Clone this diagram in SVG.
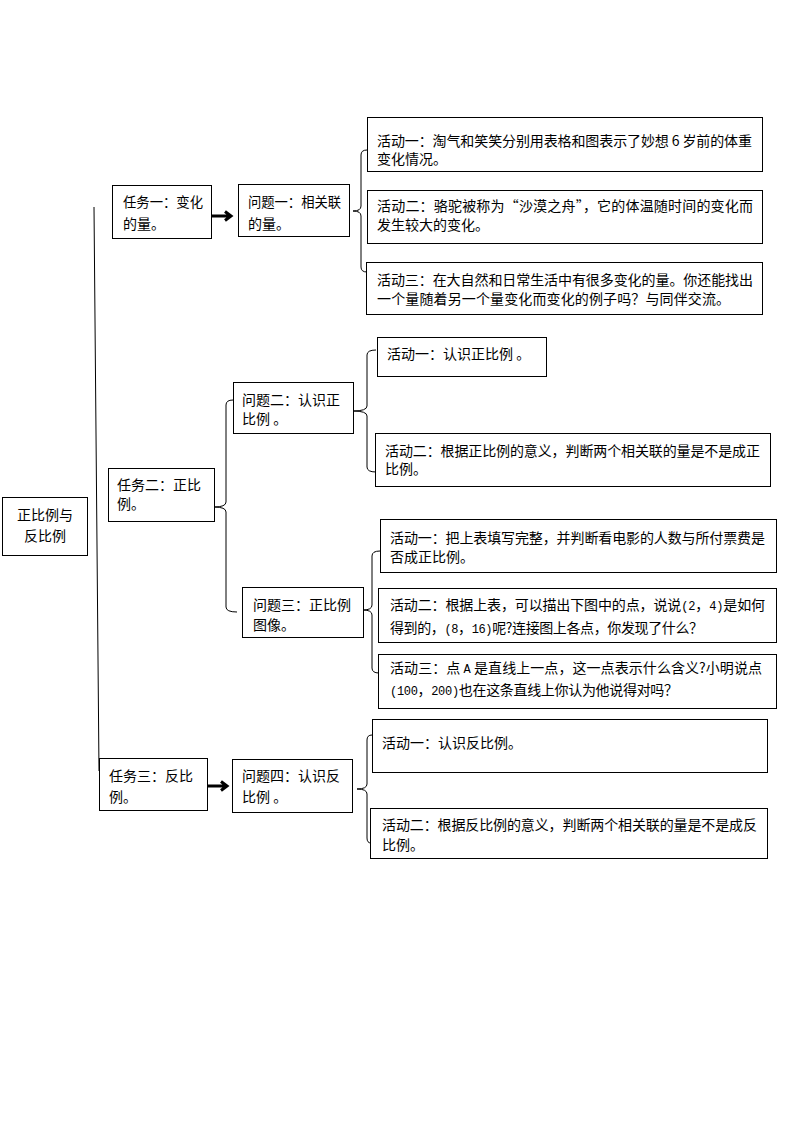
<svg xmlns="http://www.w3.org/2000/svg" width="794" height="1123" viewBox="0 0 794 1123">
<style>
.box{fill:#fff;stroke:#000;stroke-width:1}
.t{font-family:"Noto Sans CJK SC","Liberation Sans",sans-serif;font-size:14px;fill:#000}
.n{font-family:"Liberation Mono","Noto Sans CJK SC",monospace;font-size:12px}
.c{fill:none;stroke:#000;stroke-width:1}
.ar{fill:none;stroke:#000;stroke-width:3}
</style>
<rect width="794" height="1123" fill="#fff"/>
<g id="connectors">
<path class="c" d="M94,207 L99,771"/>
<path class="ar" d="M211,216 H229 M225,211.5 L231,216 L225,220.5"/>
<path class="ar" d="M207,786 H225 M221,781.5 L227,786 L221,790.5"/>
<path class="c" d="M367,150 Q361,150 361,155 V206 Q361,211 353,211 Q361,211 361,216 V267 Q361,272 367,272"/>
<path class="c" d="M233,400 Q226,400 226,405 V502 Q226,507 214,507 Q226,507 226,512 V607 Q226,612 237,612"/>
<path class="c" d="M376,350 Q367,350 367,355 V406 Q367,411 353,411 Q367,411 367,416 V467 Q367,472 376,472"/>
<path class="c" d="M380,551 Q372,551 372,556 V605 Q372,610 363,610 Q372,610 372,615 V668 Q372,673 379,673"/>
<path class="c" d="M372,735 Q367,735 367,740 V784 Q367,789 357,789 Q367,789 367,794 V838 Q367,843 371,843"/>
</g>
<g id="root">
<rect class="box" x="2.5" y="497.5" width="85" height="58"/>
<text class="t" x="45" y="520" text-anchor="middle">正比例与</text>
<text class="t" x="45" y="541" text-anchor="middle">反比例</text>
</g>
<g id="task1">
<rect class="box" x="112.5" y="185.5" width="99" height="53"/>
<text class="t" x="123" y="207" textLength="80" lengthAdjust="spacingAndGlyphs">任务一：变化</text>
<text class="t" x="123" y="229">的量。</text>
</g>
<g id="problem1">
<rect class="box" x="238.5" y="184.5" width="111" height="52"/>
<text class="t" x="248" y="207" textLength="93" lengthAdjust="spacingAndGlyphs">问题一：相关联</text>
<text class="t" x="248" y="229">的量。</text>
</g>
<g id="activity1-1">
<rect class="box" x="367.5" y="117.5" width="395" height="54"/>
<text class="t" x="377" y="146" textLength="375" lengthAdjust="spacing">活动一：淘气和笑笑分别用表格和图表示了妙想 6 岁前的体重</text>
<text class="t" x="377" y="164">变化情况。</text>
</g>
<g id="activity1-2">
<rect class="box" x="367.5" y="190.5" width="395" height="53"/>
<text class="t" x="377" y="211" textLength="376" lengthAdjust="spacing">活动二：骆驼被称为“沙漠之舟”，它的体温随时间的变化而</text>
<text class="t" x="377" y="230">发生较大的变化。</text>
</g>
<g id="activity1-3">
<rect class="box" x="366.5" y="262.5" width="396" height="52"/>
<text class="t" x="377" y="285" textLength="376" lengthAdjust="spacing">活动三：在大自然和日常生活中有很多变化的量。你还能找出</text>
<text class="t" x="377" y="304" textLength="353" lengthAdjust="spacing">一个量随着另一个量变化而变化的例子吗？与同伴交流。</text>
</g>
<g id="task2">
<rect class="box" x="108.5" y="468.5" width="106" height="53"/>
<text class="t" x="117" y="490">任务二：正比</text>
<text class="t" x="117" y="509">例。</text>
</g>
<g id="problem2">
<rect class="box" x="233.5" y="382.5" width="120" height="51"/>
<text class="t" x="242" y="405">问题二：认识正</text>
<text class="t" x="242" y="424">比例 。</text>
</g>
<g id="activity2-1">
<rect class="box" x="377.5" y="337.5" width="169" height="39"/>
<text class="t" x="387" y="359">活动一：认识正比例 。</text>
</g>
<g id="activity2-2">
<rect class="box" x="375.5" y="433.5" width="395" height="53"/>
<text class="t" x="385" y="456" textLength="375" lengthAdjust="spacing">活动二：根据正比例的意义，判断两个相关联的量是不是成正</text>
<text class="t" x="385" y="474">比例。</text>
</g>
<g id="problem3">
<rect class="box" x="242.5" y="587.5" width="121" height="50"/>
<text class="t" x="253" y="610">问题三：正比例</text>
<text class="t" x="253" y="630">图像。</text>
</g>
<g id="activity3-1">
<rect class="box" x="380.5" y="519.5" width="396" height="53"/>
<text class="t" x="390" y="543" textLength="375" lengthAdjust="spacing">活动一：把上表填写完整，并判断看电影的人数与所付票费是</text>
<text class="t" x="390" y="562">否成正比例。</text>
</g>
<g id="activity3-2">
<rect class="box" x="378.5" y="588.5" width="398" height="54"/>
<text class="t" x="390" y="610" textLength="375" lengthAdjust="spacing">活动二：根据上表，可以描出下图中的点，说说<tspan class="n">(2</tspan>，<tspan class="n">4)</tspan>是如何</text>
<text class="t" x="390" y="633" textLength="313" lengthAdjust="spacing">得到的，<tspan class="n">(8</tspan>，<tspan class="n">16)</tspan>呢?连接图上各点，你发现了什么？</text>
</g>
<g id="activity3-3">
<rect class="box" x="378.5" y="654.5" width="398" height="54"/>
<text class="t" x="390" y="673" textLength="372" lengthAdjust="spacing">活动三：点 <tspan class="n">A</tspan> 是直线上一点，这一点表示什么含义?小明说点</text>
<text class="t" x="390" y="695" textLength="288" lengthAdjust="spacing"><tspan class="n">(100</tspan>，<tspan class="n">200)</tspan>也在这条直线上你认为他说得对吗？</text>
</g>
<g id="task3">
<rect class="box" x="99.5" y="758.5" width="108" height="52"/>
<text class="t" x="109" y="781">任务三：反比</text>
<text class="t" x="109" y="802">例。</text>
</g>
<g id="problem4">
<rect class="box" x="232.5" y="759.5" width="120" height="53"/>
<text class="t" x="242" y="781">问题四：认识反</text>
<text class="t" x="242" y="802">比例 。</text>
</g>
<g id="activity4-1">
<rect class="box" x="372.5" y="719.5" width="395" height="53"/>
<text class="t" x="382" y="748">活动一：认识反比例。</text>
</g>
<g id="activity4-2">
<rect class="box" x="370.5" y="808.5" width="397" height="50"/>
<text class="t" x="382" y="830" textLength="375" lengthAdjust="spacing">活动二：根据反比例的意义，判断两个相关联的量是不是成反</text>
<text class="t" x="382" y="850">比例。</text>
</g>
</svg>
